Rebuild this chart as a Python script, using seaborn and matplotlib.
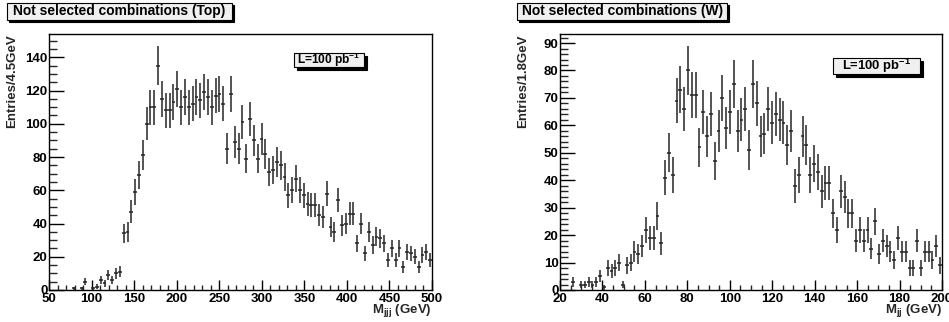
import numpy as np
import matplotlib
matplotlib.use("Agg")
import matplotlib.pyplot as plt
from matplotlib.patches import Rectangle
from matplotlib.ticker import MultipleLocator
import seaborn as sns

# Three-jet invariant mass of the rejected (Top) combinations, 4.5 GeV bins
top_range = (50.0, 500.0)
top_counts = [
    0, 0, 0, 0, 0, 0, 1, 0, 1, 5,
    0, 1, 2, 6, 4, 9, 6, 10, 11, 34,
    35, 47, 59, 69, 81, 100, 110, 110, 135, 115,
    108, 108, 113, 121, 110, 116, 110, 112, 116, 114,
    119, 116, 110, 117, 118, 112, 85, 118, 89, 85,
    101, 79, 103, 90, 79, 91, 82, 71, 72, 77,
    75, 68, 57, 60, 67, 60, 57, 52, 51, 51,
    45, 44, 58, 38, 35, 54, 39, 40, 46, 46,
    28, 40, 22, 35, 27, 32, 31, 28, 18, 25,
    18, 25, 14, 23, 22, 20, 14, 21, 23, 18,
]

# Two-jet invariant mass of the rejected (W) combinations, 1.8 GeV bins
w_range = (20.0, 200.0)
w_counts = [
    0, 0, 0, 3, 0, 2, 2, 3, 2, 3,
    5, 1, 8, 7, 8, 10, 2, 9, 10, 14,
    13, 16, 22, 19, 19, 27, 17, 41, 50, 42,
    69, 73, 66, 80, 71, 71, 52, 65, 56, 64,
    47, 58, 70, 59, 65, 75, 58, 62, 66, 51,
    75, 68, 56, 57, 66, 61, 64, 62, 61, 53,
    58, 38, 42, 56, 53, 42, 46, 43, 36, 39,
    39, 28, 22, 36, 34, 28, 28, 18, 22, 18,
    22, 15, 25, 13, 18, 16, 14, 11, 19, 14,
    14, 8, 8, 18, 8, 14, 14, 11, 16, 9,
]

panels = [
    dict(title="Not selected combinations (Top)", counts=top_counts, rng=top_range,
         ylabel="Entries/4.5GeV", xlabel=r"$\mathbf{M_{jjj}}$ (GeV)",
         ymax=154, xmaj=50, xmin=10, ymaj=20, ymin=5),
    dict(title="Not selected combinations (W)", counts=w_counts, rng=w_range,
         ylabel="Entries/1.8GeV", xlabel=r"$\mathbf{M_{jj}}$ (GeV)",
         ymax=93.3, xmaj=20, xmin=5, ymaj=10, ymin=2),
]

sns.set_theme(style="white")
plt.rcParams["font.family"] = ["Liberation Sans", "DejaVu Sans"]
plt.rcParams["font.weight"] = "bold"
plt.rcParams["mathtext.fontset"] = "custom"
plt.rcParams["mathtext.rm"] = "Liberation Sans:bold"
plt.rcParams["mathtext.bf"] = "Liberation Sans:bold"
plt.rcParams["mathtext.it"] = "Liberation Sans:bold"

W, H = 949, 322
fig = plt.figure(figsize=(W / 100, H / 100), dpi=100)
fig.patch.set_facecolor("white")


def px_rect(x0, y0, x1, y1):
    """Figure-fraction rectangle from pixel corners (y measured from top)."""
    return (x0 / W, 1 - y1 / H, (x1 - x0) / W, (y1 - y0) / H)


def shadow_box(x0, y0, x1, y1, text, size, off=2.5, face="#f0f0f0"):
    sx, sy, sw, sh = px_rect(x0 + off, y0 + off, x1 + off, y1 + off)
    fig.patches.append(Rectangle((sx, sy), sw, sh, transform=fig.transFigure,
                                 facecolor="black", edgecolor="black", lw=0.8))
    bx, by, bw, bh = px_rect(x0, y0, x1, y1)
    fig.patches.append(Rectangle((bx, by), bw, bh, transform=fig.transFigure,
                                 facecolor=face, edgecolor="black", lw=0.8))
    fig.text(bx + bw / 2, by + bh / 2, text, ha="center", va="center",
             fontsize=size, fontweight="bold", color="black")


axes_px = [(49, 34, 432, 290), (560, 34, 942, 290)]
title_px = [(7, 3, 232, 20), (517, 3, 727, 20)]
lumi_px = [(294, 53, 364, 67), (833, 58, 920, 74)]
lumi_size = [8.6, 9.4]

for p, apx, tpx, lpx, lsz in zip(panels, axes_px, title_px, lumi_px, lumi_size):
    x0, y0, x1, y1 = apx
    ax = fig.add_axes(px_rect(x0, y0, x1, y1))
    counts = np.asarray(p["counts"], dtype=float)
    lo, hi = p["rng"]
    edges = np.linspace(lo, hi, len(counts) + 1)
    centers = 0.5 * (edges[:-1] + edges[1:])
    half = 0.5 * (edges[1] - edges[0])
    keep = counts > 0
    ax.errorbar(centers[keep], counts[keep], xerr=half, yerr=np.sqrt(counts[keep]),
                fmt="none", ecolor="#262626", elinewidth=1.1, capsize=0)

    ax.set_xlim(lo, hi)
    ax.set_ylim(0, p["ymax"])
    ax.xaxis.set_major_locator(MultipleLocator(p["xmaj"]))
    ax.xaxis.set_minor_locator(MultipleLocator(p["xmin"]))
    ax.yaxis.set_major_locator(MultipleLocator(p["ymaj"]))
    ax.yaxis.set_minor_locator(MultipleLocator(p["ymin"]))
    ax.tick_params(axis="x", which="major", direction="in", length=7, width=1,
                   pad=2, labelsize=9.5, bottom=True, top=False, colors="black")
    ax.tick_params(axis="x", which="minor", direction="in", length=3.5, width=1,
                   bottom=True, top=False)
    ax.tick_params(axis="y", which="major", direction="in", length=11, width=1,
                   pad=1, labelsize=9.5, left=True, right=False, colors="black")
    ax.tick_params(axis="y", which="minor", direction="in", length=5.5, width=1,
                   left=True, right=False)
    for lab in ax.get_xticklabels() + ax.get_yticklabels():
        lab.set_fontweight("bold")
    for s in ax.spines.values():
        s.set_visible(True)
        s.set_color("black")
        s.set_linewidth(1.0)

    ax.set_ylabel(p["ylabel"], loc="top", fontsize=9.5, fontweight="bold")
    ax.yaxis.set_label_coords(-31 / (x1 - x0), 1.0)
    ax.set_xlabel(p["xlabel"], loc="right", fontsize=9.5, fontweight="bold")
    ax.xaxis.set_label_coords(1.0, -12 / (y1 - y0))

    shadow_box(*tpx, p["title"], 9.9, off=2.0)
    shadow_box(*lpx, r"L=100 pb$^{\mathbf{-1}}$", lsz, off=3.0)

fig.savefig("out.png", dpi=100)
